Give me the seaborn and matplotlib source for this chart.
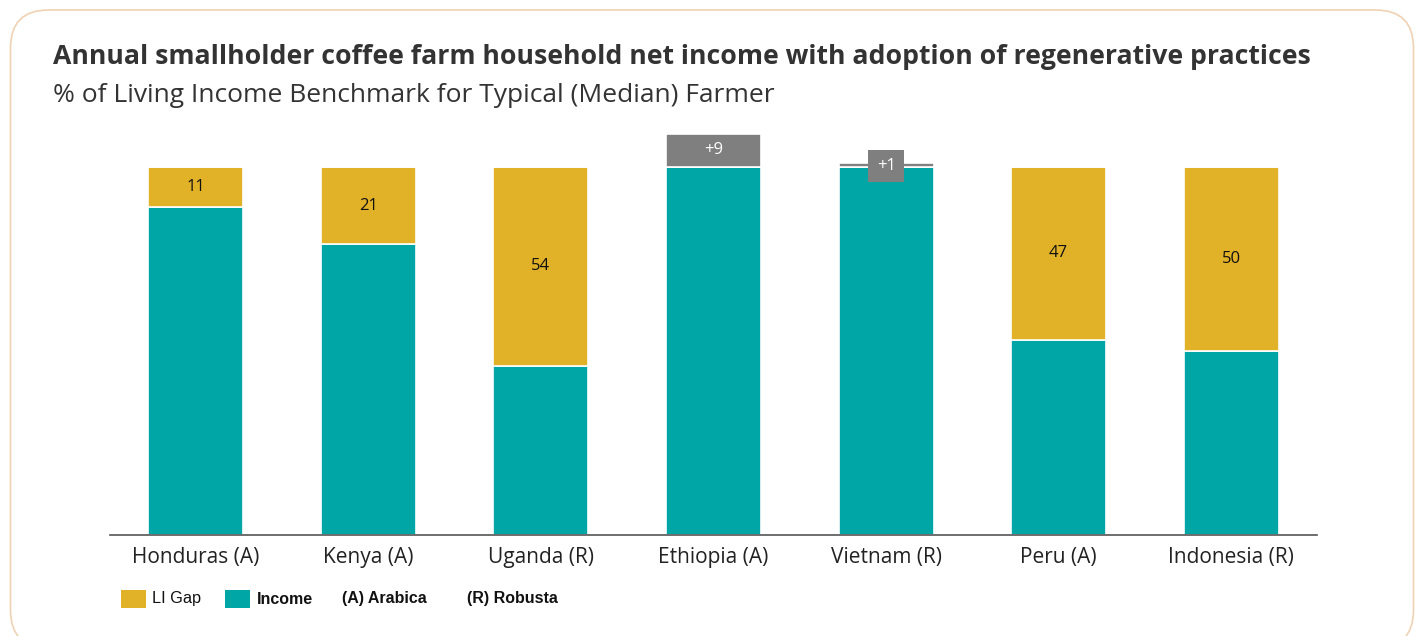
import numpy as np
import pandas as pd
import matplotlib
matplotlib.use("Agg")
import matplotlib.pyplot as plt
from matplotlib.patches import FancyBboxPatch, Rectangle
import seaborn as sns

# Data: household net income as % of the living income benchmark
countries = ["Honduras (A)", "Kenya (A)", "Uganda (R)", "Ethiopia (A)",
             "Vietnam (R)", "Peru (A)", "Indonesia (R)"]
income_pct = [89, 79, 46, 109, 101, 53, 50]
benchmark = 100

legend_labels = ["LI Gap", "Income", "(A) Arabica", "(R) Robusta"]

title = "Annual smallholder coffee farm household net income with adoption of regenerative practices"
subtitle = "% of Living Income Benchmark for Typical (Median) Farmer"

TEAL = "#00A6A6"
GOLD = "#E1B127"
GREY = "#7F7F7F"
TEXT = "#333333"

income = np.array(income_pct, dtype=float)
income_shown = np.minimum(income, benchmark)
gap = np.maximum(benchmark - income, 0)
surplus = np.maximum(income - benchmark, 0)

df = pd.DataFrame({
    "country": countries,
    "income": income_shown,
    "gap": gap,
    "surplus": surplus,
    "bench": np.full(len(countries), float(benchmark)),
})

sns.set_theme(style="white")
plt.rcParams["font.family"] = ["Open Sans", "DejaVu Sans"]

fig = plt.figure(figsize=(14.2, 6.36), dpi=100)
W, H = 1420, 636

# rounded card outline (pixel coordinates)
card = FancyBboxPatch((10.5, -12), 1403, 638,
                      boxstyle="round,pad=0,rounding_size=38",
                      transform=None, facecolor="none",
                      edgecolor="#EFD2B3", linewidth=1.2)
fig.patches.append(card)

ax = fig.add_axes([109.5 / W, (H - 535) / H, 1208 / W, (535 - 130) / H])

bw = 0.55
sns.barplot(data=df, x="country", y="income", color=TEAL, width=bw,
            saturation=1, edgecolor="white", linewidth=1.2, ax=ax)
sns.barplot(data=df, x="country", y="gap", bottom=df["income"], color=GOLD,
            width=bw, saturation=1, edgecolor="white", linewidth=1.2, ax=ax)
sns.barplot(data=df, x="country", y="surplus", bottom=df["bench"], color=GREY,
            width=bw, saturation=1, edgecolor="white", linewidth=1.2, ax=ax)

ax.set_xlim(-0.5, len(countries) - 0.5)
ax.set_ylim(0, 100 * (535 - 130) / 368)
ax.set_xlabel("")
ax.set_ylabel("")
ax.set_yticks([])
for s in ["left", "right", "top"]:
    ax.spines[s].set_visible(False)
ax.spines["bottom"].set_color("#555555")
ax.spines["bottom"].set_linewidth(1.2)
ax.tick_params(axis="x", length=0, pad=9, labelsize=15, labelcolor="#222222")

# value labels
for i in range(len(countries)):
    if gap[i] > 0:
        ax.text(i, income_shown[i] + gap[i] / 2, f"{gap[i]:.0f}",
                ha="center", va="center", fontsize=12, color="#111111")
    if surplus[i] > 0:
        if surplus[i] >= 5:
            ax.text(i, benchmark + surplus[i] / 2, f"+{surplus[i]:.0f}",
                    ha="center", va="center", fontsize=12, color="white")
        else:
            ax.text(i, benchmark + 0.3, f"+{surplus[i]:.0f}",
                    ha="center", va="center", fontsize=12, color="white",
                    bbox=dict(boxstyle="square,pad=0.5", facecolor=GREY,
                              edgecolor="none"))

# titles
fig.text(53 / W, 1 - 57 / H, title, fontsize=19.2, fontweight="bold",
         color=TEXT, ha="left", va="center")
fig.text(53 / W, 1 - 96 / H, subtitle, fontsize=19, color=TEXT,
         ha="left", va="center")

# legend
def swatch(x0, color):
    fig.patches.append(Rectangle((x0, H - 608), 25, 18, transform=None,
                                 facecolor=color, edgecolor="none"))

swatch(121, GOLD)
swatch(225, TEAL)
ly = 1 - 599 / H
lfam = ["Liberation Sans", "DejaVu Sans"]
fig.text(152 / W, ly, legend_labels[0], fontsize=11.8, color="#111111",
         ha="left", va="center", family=lfam)
fig.text(257 / W, ly, legend_labels[1], fontsize=11.5, color="#111111",
         fontweight="bold", ha="left", va="center", family=lfam)
fig.text(342 / W, ly, legend_labels[2], fontsize=11.5, color="#111111",
         fontweight="bold", ha="left", va="center", family=lfam)
fig.text(467 / W, ly, legend_labels[3], fontsize=11.5, color="#111111",
         fontweight="bold", ha="left", va="center", family=lfam)

fig.savefig("out.png", dpi=100, facecolor="white")
